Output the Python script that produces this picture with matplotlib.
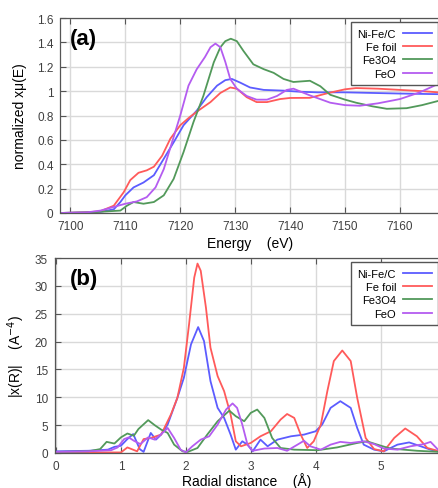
import matplotlib
matplotlib.use("Agg")
import matplotlib.pyplot as plt

plt.rcParams['font.family'] = ['Liberation Sans', 'DejaVu Sans']

labels = ["Ni-Fe/C", "Fe foil", "Fe3O4", "FeO"]
colors = ["#5c5cff", "#ff5a5a", "#52995a", "#b45cf0"]

# ---- panel (a): XANES ----
E_ni = [7098, 7103, 7105.5, 7107.9, 7109.1, 7110, 7111.5, 7113.3, 7115.2, 7117, 7118.8, 7120.6, 7123,
        7124.8, 7126.7, 7128.2, 7129.4, 7130.9, 7132.7, 7135.2, 7138.8, 7141.8, 7145, 7150, 7155,
        7160, 7167]
mu_ni = [0.0, 0.005, 0.01, 0.03, 0.09, 0.145, 0.21, 0.25, 0.31, 0.445, 0.58, 0.72, 0.84,
         0.95, 1.045, 1.09, 1.10, 1.07, 1.03, 1.01, 1.004, 0.995, 0.99, 0.99, 0.985,
         0.98, 0.975]

E_fe = [7098, 7103, 7105.5, 7107.9, 7109.7, 7110.9, 7112.4, 7113.9, 7115.2, 7116.7, 7118.2, 7120,
        7121.8, 7123.6, 7125.5, 7127.3, 7129.1, 7130.3, 7132.1, 7133.9, 7135.8, 7138.2, 7140,
        7143.6, 7147, 7150, 7152, 7156, 7160, 7164, 7167]
mu_fe = [0.0, 0.005, 0.015, 0.06, 0.17, 0.27, 0.33, 0.35, 0.38, 0.47, 0.61, 0.72,
         0.79, 0.85, 0.91, 0.985, 1.03, 1.02, 0.95, 0.91, 0.91, 0.935, 0.944,
         0.945, 0.985, 1.015, 1.025, 1.02, 1.01, 1.0, 0.99]

E_f3 = [7098, 7103, 7105.5, 7109.1, 7110.3, 7111.5, 7113.3, 7115.2, 7117, 7118.8, 7120.6, 7122.4,
        7124.2, 7126.1, 7127.3, 7128.2, 7129.2, 7130.3, 7131.5, 7133.3, 7135.2, 7137, 7138.8,
        7140.6, 7143.6, 7145.5, 7147.3, 7150, 7152, 7155, 7157.6, 7161.2, 7164, 7167]
mu_f3 = [0.0, 0.005, 0.01, 0.02, 0.06, 0.09, 0.076, 0.09, 0.145, 0.28, 0.50, 0.745,
         0.96, 1.236, 1.36, 1.41, 1.43, 1.41, 1.33, 1.22, 1.18, 1.15, 1.10,
         1.075, 1.085, 1.04, 0.97, 0.93, 0.905, 0.875, 0.855, 0.86, 0.885, 0.92]

E_feo = [7098, 7103, 7105.5, 7107.9, 7110, 7112.1, 7113.9, 7115.5, 7117, 7118.5, 7120, 7121.5,
         7123, 7124.5, 7125.5, 7126.4, 7127.3, 7128.2, 7129.1, 7130.3, 7132.1, 7133.9, 7135.8,
         7137.6, 7139.4, 7140.6, 7143.6, 7147.3, 7150, 7152.7, 7156, 7160, 7163.6, 7167]
mu_feo = [0.0, 0.005, 0.02, 0.05, 0.076, 0.095, 0.13, 0.21, 0.36, 0.58, 0.80, 1.045,
          1.18, 1.28, 1.36, 1.39, 1.36, 1.24, 1.10, 1.02, 0.96, 0.93, 0.93,
          0.96, 1.01, 1.02, 0.965, 0.905, 0.885, 0.88, 0.9, 0.935, 0.99, 1.06]

# ---- panel (b): FT magnitude ----
R_ni = [0, 0.5, 0.8, 0.9, 1.0, 1.1, 1.19, 1.29, 1.35, 1.46, 1.54, 1.62, 1.72, 1.87, 1.97, 2.08,
        2.19, 2.28, 2.38, 2.49, 2.59, 2.69, 2.77, 2.87, 2.95, 3.03, 3.15, 3.26, 3.41, 3.62, 3.82,
        4.0, 4.1, 4.23, 4.38, 4.54, 4.64, 4.74, 4.9, 5.05, 5.26, 5.44, 5.62, 5.77, 5.91]
chi_ni = [0.3, 0.4, 0.6, 1.1, 1.3, 2.5, 3.4, 0.7, 0.2, 3.6, 2.4, 3.3, 5.1, 9.9, 13.5, 19.5,
          22.6, 20.1, 12.9, 8.1, 6.3, 3.3, 0.6, 2.1, 1.5, 0.3, 2.4, 1.2, 2.4, 3.0, 3.3,
          3.9, 5.1, 8.1, 9.3, 8.1, 4.5, 1.5, 0.6, 0.3, 1.5, 1.9, 1.2, 0.6, 0.2]

R_fe = [0, 0.5, 0.9, 1.0, 1.1, 1.25, 1.35, 1.46, 1.62, 1.77, 1.87, 1.97, 2.05, 2.13, 2.18, 2.23,
        2.31, 2.38, 2.49, 2.59, 2.69, 2.77, 2.85, 3.0, 3.15, 3.31, 3.46, 3.56, 3.67, 3.77, 3.87,
        3.97, 4.08, 4.18, 4.28, 4.41, 4.54, 4.64, 4.77, 4.9, 5.05, 5.21, 5.38, 5.56, 5.72, 5.91]
chi_fe = [0.1, 0.1, 0.1, 0.1, 1.0, 0.3, 2.5, 2.7, 3.3, 6.9, 9.9, 15.3, 23.1, 31.5, 34.0, 32.7,
          26.1, 18.9, 13.8, 11.1, 6.9, 2.1, 1.2, 1.8, 3.0, 3.9, 6.0, 7.0, 6.3, 3.3, 0.9,
          2.1, 5.1, 11.1, 16.5, 18.4, 16.5, 9.9, 2.7, 0.7, 0.3, 2.7, 4.4, 3.0, 0.9, 0.3]

R_f3 = [0, 0.5, 0.68, 0.78, 0.90, 1.0, 1.1, 1.2, 1.27, 1.42, 1.52, 1.62, 1.72, 1.82, 1.95, 2.03,
        2.18, 2.33, 2.49, 2.67, 2.77, 2.9, 3.0, 3.1, 3.21, 3.33, 3.46, 3.67, 4.03, 4.33, 4.64,
        4.79, 4.95, 5.15, 5.56, 5.91]
chi_f3 = [0.2, 0.3, 0.7, 2.0, 1.7, 2.8, 3.5, 3.1, 4.3, 5.9, 5.0, 4.2, 3.6, 1.5, 0.3, 0.2,
          0.9, 3.3, 5.7, 7.6, 6.6, 5.7, 7.2, 7.8, 6.3, 2.7, 0.9, 0.6, 0.5, 1.0, 1.8,
          2.1, 1.5, 0.8, 0.4, 0.2]

R_feo = [0, 0.5, 0.85, 0.95, 1.05, 1.12, 1.2, 1.3, 1.42, 1.52, 1.67, 1.72, 1.82, 1.92, 2.0, 2.1,
         2.23, 2.36, 2.49, 2.62, 2.72, 2.79, 2.87, 2.95, 3.03, 3.21, 3.41, 3.56, 3.72, 3.82, 3.92,
         4.08, 4.23, 4.38, 4.54, 4.74, 4.9, 5.05, 5.26, 5.46, 5.67, 5.77, 5.91]
chi_feo = [0.2, 0.3, 0.5, 1.0, 2.5, 2.8, 2.2, 1.6, 2.8, 2.4, 3.9, 4.5, 2.7, 0.6, 0.1, 1.2,
           2.4, 3.0, 5.1, 7.8, 8.9, 8.1, 5.1, 1.5, 0.4, 0.8, 0.9, 0.4, 1.5, 2.2, 1.2,
           0.6, 1.5, 2.0, 1.8, 2.1, 1.6, 0.8, 0.6, 1.2, 1.6, 2.0, 0.3]

xa_ticks = [7100, 7110, 7120, 7130, 7140, 7150, 7160]
ya_ticks = [0, 0.2, 0.4, 0.6, 0.8, 1, 1.2, 1.4, 1.6]
ya_labels = ["0", "0.2", "0.4", "0.6", "0.8", "1", "1.2", "1.4", "1.6"]
xb_ticks = [0, 1, 2, 3, 4, 5]
yb_ticks = [0, 5, 10, 15, 20, 25, 30, 35]

W, H = 439, 489
fig = plt.figure(figsize=(W / 100, H / 100), dpi=100)

def px_axes(l, t, r, b):
    return fig.add_axes([l / W, 1 - b / H, (r - l) / W, (b - t) / H])

axA = px_axes(60.5, 19, 439, 214)
axB = px_axes(55, 259, 439, 454)

tickcol = "#404040"
for ax in (axA, axB):
    ax.grid(True, color="#d9d9d9", lw=1.0)
    ax.set_axisbelow(True)
    ax.tick_params(direction="in", top=True, right=False, length=4, width=0.8,
                   labelsize=8.5, labelcolor=tickcol, color="#555555", pad=5)
    for s in ("left", "bottom", "top"):
        ax.spines[s].set_color("#555555")
        ax.spines[s].set_linewidth(0.9)
    ax.spines["right"].set_visible(False)

series_a = [(E_ni, mu_ni), (E_fe, mu_fe), (E_f3, mu_f3), (E_feo, mu_feo)]
for (x, y), c, lab in zip(series_a, colors, labels):
    axA.plot(x, y, color=c, lw=1.3, label=lab, solid_joinstyle="round")
axA.set_xlim(7098.2, 7167.1)
axA.set_ylim(0, 1.6)
axA.set_xticks(xa_ticks)
axA.set_yticks(ya_ticks)
axA.set_yticklabels(ya_labels)
axA.set_xlabel("Energy    (eV)", fontsize=10, labelpad=3)
axA.set_ylabel("normalized xμ(E)", fontsize=10)
axA.yaxis.set_label_coords(-0.088, 0.5)
axA.text(0.025, 0.95, "(a)", transform=axA.transAxes, fontsize=16, fontweight="bold",
         va="top", ha="left")

series_b = [(R_ni, chi_ni), (R_fe, chi_fe), (R_f3, chi_f3), (R_feo, chi_feo)]
for (x, y), c, lab in zip(series_b, colors, labels):
    axB.plot(x, y, color=c, lw=1.3, label=lab, solid_joinstyle="round")
axB.set_xlim(-0.015, 5.9)
axB.set_ylim(0, 35)
axB.set_xticks(xb_ticks)
axB.set_yticks(yb_ticks)
axB.set_xlabel("Radial distance    (Å)", fontsize=10, labelpad=0)
axB.set_ylabel("|x(R)|    (A$^{-4}$)", fontsize=10)
axB.yaxis.set_label_coords(-0.073, 0.5)
axB.text(0.04, 0.95, "(b)", transform=axB.transAxes, fontsize=16, fontweight="bold",
         va="top", ha="left")

for ax in (axA, axB):
    leg = ax.legend(loc="upper right", bbox_to_anchor=(0.998, 0.98), markerfirst=False,
                    fontsize=8, frameon=True, fancybox=False, borderpad=0.6,
                    handlelength=2.6, handletextpad=0.6, labelspacing=0.3,
                    borderaxespad=0)
    fr = leg.get_frame()
    fr.set_edgecolor("#555555")
    fr.set_linewidth(1.0)
    fr.set_facecolor("white")
    fr.set_alpha(1)

fig.savefig("out.png", dpi=100)
